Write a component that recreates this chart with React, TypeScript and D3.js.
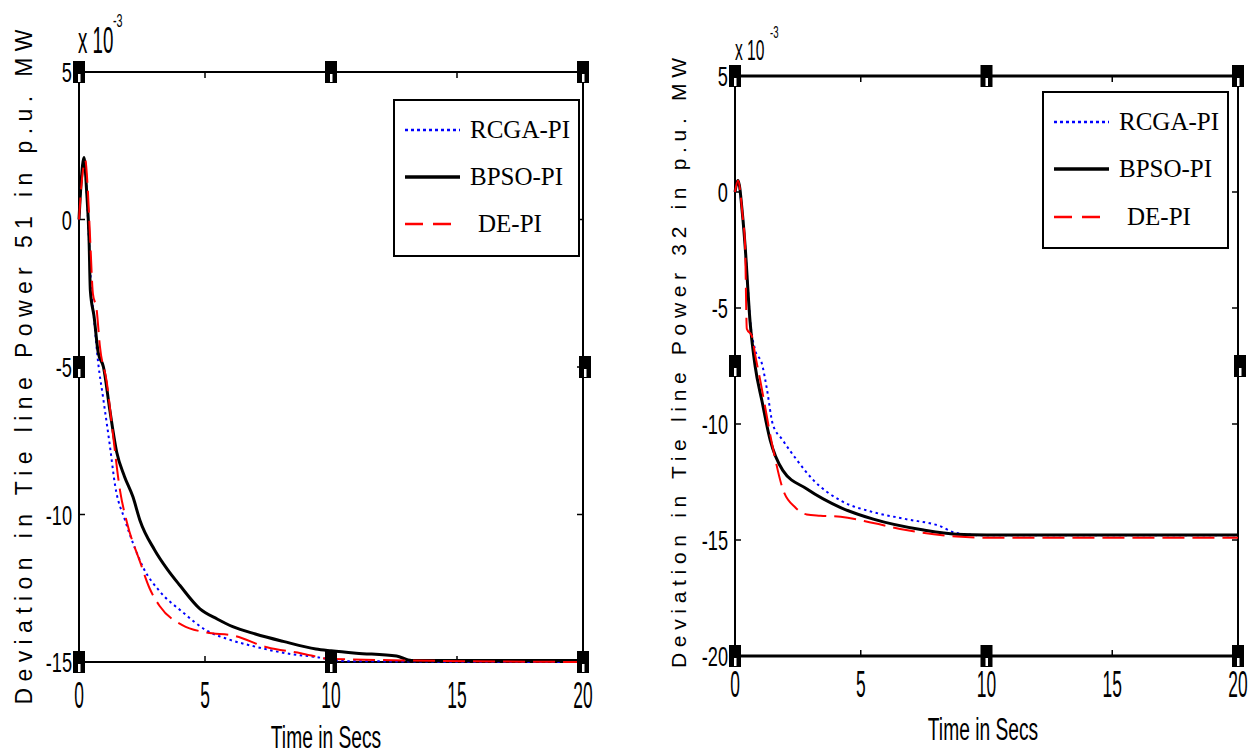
import React from 'react';
import * as d3 from 'd3';

const xTicks = [0, 5, 10, 15, 20];
const yTicks51 = [5, 0, -5, -10, -15];
const yTicks32 = [5, 0, -5, -10, -15, -20];
const legendLabels = ['RCGA-PI', 'BPSO-PI', 'DE-PI'];
const xLabel = 'Time in Secs';
const yLabel51 = 'Deviation in Tie line Power 51 in p.u. MW';
const yLabel32 = 'Deviation in Tie line Power 32 in p.u. MW';

// Tie line power 51 (x10^-3)
const rcga51: [number, number][] = [
  [0, 0], [0.08, 1.2], [0.2, 2.0], [0.3, 1.0], [0.4, -0.8], [0.47, -2.1], [0.6, -3.4], [0.76, -4.85],
  [0.95, -6.0], [1.23, -7.7], [1.43, -9.0], [1.83, -10.2], [2.2, -11.1], [2.55, -11.8], [3.2, -12.6],
  [4.1, -13.3], [5.0, -13.9], [6.0, -14.25], [6.9, -14.46], [8.4, -14.73], [9.4, -14.83], [10.5, -14.97], [20, -15],
];
const bpso51: [number, number][] = [
  [0, 0], [0.08, 1.2], [0.2, 2.1], [0.3, 1.0], [0.4, -0.7], [0.45, -2.4], [0.6, -3.3], [0.76, -4.5],
  [0.97, -5.0], [1.23, -6.5], [1.5, -7.9], [1.8, -8.7], [2.14, -9.4], [2.42, -10.2], [3, -11.2],
  [3.5, -11.85], [4, -12.4], [4.8, -13.2], [5.5, -13.55], [6.1, -13.8], [7, -14.05], [8.1, -14.3],
  [9.4, -14.56], [10, -14.62], [11, -14.7], [12.6, -14.8], [13.2, -14.95], [20, -14.95],
];
const de51: [number, number][] = [
  [0, 0], [0.1, 1.2], [0.25, 2.0], [0.35, 1.0], [0.45, -0.8], [0.55, -2.5], [0.7, -3.05], [0.83, -4.3],
  [1.1, -5.5], [1.35, -7.3], [1.63, -9.2], [1.9, -10.26], [2.42, -11.6], [2.8, -12.5], [3.2, -13.1],
  [4.1, -13.75], [5.07, -14.0], [6.1, -14.1], [7.46, -14.5], [8.8, -14.7], [10, -14.9], [20, -15],
];

// Tie line power 32 (x10^-3)
const rcga32: [number, number][] = [
  [0, 0], [0.12, 0.4], [0.3, -1.0], [0.4, -2.3], [0.5, -3.95], [0.6, -5.5], [0.8, -6.8], [1.07, -7.4],
  [1.27, -8.5], [1.5, -10.0], [1.9, -10.7], [2.46, -11.55], [3.1, -12.4], [4.2, -13.3], [5.5, -13.8],
  [6.8, -14.1], [8.15, -14.4], [8.8, -14.7], [10, -14.8], [20, -14.8],
];
const bpso32: [number, number][] = [
  [0, 0], [0.12, 0.5], [0.3, -1.0], [0.4, -2.3], [0.6, -5.6], [0.8, -7.5], [1.07, -9.0], [1.4, -10.7],
  [1.9, -12.0], [2.86, -12.8], [4.2, -13.6], [5.5, -14.1], [7.5, -14.57], [8.8, -14.75], [10, -14.78], [20, -14.78],
];
const de32: [number, number][] = [
  [0, 0], [0.12, 0.5], [0.3, -1.0], [0.4, -2.3], [0.47, -5.9], [0.67, -6.2], [0.8, -7.0], [1.0, -8.1],
  [1.5, -11.0], [1.9, -12.8], [2.4, -13.6], [2.85, -13.9], [3.4, -13.95], [4.2, -14.0], [5.5, -14.27],
  [6.8, -14.57], [8.8, -14.85], [10, -14.9], [20, -14.9],
];

const SANS = "'Liberation Sans', Arial, sans-serif";
const SERIF = "'Liberation Serif', 'Times New Roman', serif";

const styles = [
  { stroke: '#0000ff', width: 2, dash: '2.5,3.5' },
  { stroke: '#000000', width: 3, dash: '' },
  { stroke: '#ff0000', width: 2, dash: '22,8' },
];
const legendDash = ['3,3', '', '18,10'];

function CText({ x, y, size, sx, anchor = 'middle', children }: any) {
  return (
    <text transform={`translate(${x},${y}) scale(${sx},1)`} fontSize={size} textAnchor={anchor}
      fontFamily={SANS} fill="#000">{children}</text>
  );
}

function Handle({ cx, cy }: any) {
  return (
    <g>
      <rect x={cx - 6} y={cy - 11} width={12} height={22} fill="#000" />
      <rect x={cx - 1} y={cy + 2} width={2.5} height={8} fill="#fff" />
    </g>
  );
}

function Panel(p: any) {
  const x = d3.scaleLinear().domain([0, 20]).range([p.x0, p.x1]);
  const y = d3.scaleLinear().domain([p.yTicks[p.yTicks.length - 1], 5]).range([p.yBot, p.yTop]);
  const line = d3.line<[number, number]>().x(d => x(d[0])).y(d => y(d[1])).curve(d3.curveMonotoneX);
  const midX = (p.x0 + p.x1) / 2;
  const midY = (p.yTop + p.yBot) / 2;
  const tl = 6;
  return (
    <g>
      {/* box */}
      <line x1={p.x0} x2={p.x1} y1={p.yTop} y2={p.yTop} stroke="#000" strokeWidth={p.topW} />
      <line x1={p.x0} x2={p.x1} y1={p.yBot} y2={p.yBot} stroke="#000" strokeWidth={p.botW} />
      <line x1={p.x0} x2={p.x0} y1={p.yTop} y2={p.yBot} stroke="#000" strokeWidth={2} />
      <line x1={p.x1} x2={p.x1} y1={p.yTop} y2={p.yBot} stroke="#000" strokeWidth={2} />
      {/* ticks */}
      {xTicks.map(t => (
        <g key={'xt' + t}>
          <line x1={x(t)} x2={x(t)} y1={p.yBot} y2={p.yBot - tl} stroke="#000" strokeWidth={1.5} />
          <line x1={x(t)} x2={x(t)} y1={p.yTop} y2={p.yTop + tl} stroke="#000" strokeWidth={1.5} />
          <CText x={x(t)} y={p.xTickBase} size={37} sx={0.47}>{t}</CText>
        </g>
      ))}
      {p.yTicks.map((t: number) => (
        <g key={'yt' + t}>
          <line x1={p.x0} x2={p.x0 + tl} y1={y(t)} y2={y(t)} stroke="#000" strokeWidth={1.5} />
          <line x1={p.x1} x2={p.x1 - tl} y1={y(t)} y2={y(t)} stroke="#000" strokeWidth={1.5} />
          <CText x={p.x0 - 7} y={y(t) + 10} size={28} sx={0.65} anchor="end">{t}</CText>
        </g>
      ))}
      {/* curves */}
      {p.series.map((s: [number, number][], i: number) => (
        <path key={'s' + i} d={line(s) || ''} fill="none" stroke={styles[i].stroke}
          strokeWidth={styles[i].width} strokeDasharray={styles[i].dash} />
      ))}
      {/* legend */}
      <rect x={p.lg.x} y={p.lg.y} width={185} height={156} fill="#fff" stroke="#000" strokeWidth={2} />
      {legendLabels.map((lab, i) => (
        <g key={'lg' + i}>
          <line x1={p.lg.x + 11} x2={p.lg.x + 66} y1={p.lg.rows[i]} y2={p.lg.rows[i]}
            stroke={styles[i].stroke} strokeWidth={styles[i].width + 0.5} strokeDasharray={legendDash[i]} />
          <text x={p.lg.x + (i === 2 ? 84 : 76)} y={p.lg.rows[i] + 8} fontSize={25} fontFamily={SERIF} fill="#000">{lab}</text>
        </g>
      ))}
      {/* labels */}
      <CText x={p.xLabX} y={p.xLabY} size={31} sx={0.62}>{xLabel}</CText>
      <text transform={`translate(${p.yLabX},${p.yLabY}) rotate(-90)`} fontSize={p.yLabSize}
        fontFamily={SANS} textAnchor="middle" textLength={p.yLabLen} lengthAdjust="spacing" fill="#000">{p.yLabel}</text>
      <CText x={p.x10.x} y={p.x10.y} size={p.x10.size} sx={0.52} anchor="start">x 10</CText>
      <CText x={p.x10.sx} y={p.x10.sy} size={p.x10.ssize} sx={0.6} anchor="start">-3</CText>
      {/* handles */}
      {[[p.x0, p.yTop], [midX, p.yTop], [p.x1, p.yTop], [p.x0, midY], [p.x1 + 2, midY],
        [p.x0, p.yBot], [midX, p.yBot], [p.x1, p.yBot]].map((h, i) => (
        <Handle key={'h' + i} cx={h[0]} cy={h[1]} />
      ))}
    </g>
  );
}

export default function App() {
  return (
    <svg width={1257} height={753} style={{ position: 'absolute', left: 0, top: 0, background: '#fff' }}>
      <rect width={1257} height={753} fill="#fff" />
      <Panel x0={79} x1={583} yTop={72} yBot={662} yTicks={yTicks51} series={[rcga51, bpso51, de51]}
        topW={2} botW={2} xTickBase={708} xLabX={326} xLabY={748}
        yLabX={32} yLabY={367} yLabLen={675} yLabSize={23} yLabel={yLabel51}
        x10={{ x: 78, y: 53, size: 36, sx: 113, sy: 27, ssize: 18 }}
        lg={{ x: 394, y: 100, rows: [130, 177, 224] }} />
      <Panel x0={735} x1={1238} yTop={76} yBot={656} yTicks={yTicks32} series={[rcga32, bpso32, de32]}
        topW={3} botW={3} xTickBase={697} xLabX={983} xLabY={740}
        yLabX={686} yLabY={363} yLabLen={610} yLabSize={21} yLabel={yLabel32}
        x10={{ x: 735, y: 60, size: 30, sx: 770, sy: 38, ssize: 16 }}
        lg={{ x: 1043, y: 92, rows: [122, 169, 217] }} />
    </svg>
  );
}
